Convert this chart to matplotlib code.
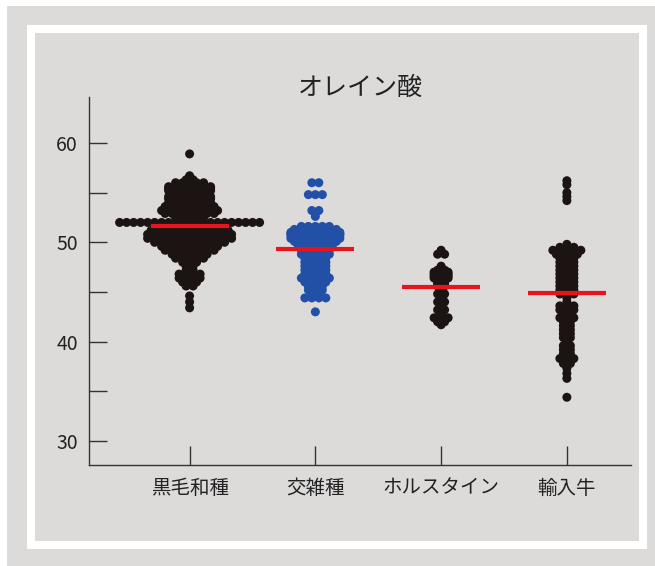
import numpy as np
import matplotlib
matplotlib.use("Agg")
import matplotlib.pyplot as plt
from matplotlib.patches import Rectangle

plt.rcParams['font.family'] = ['Noto Sans CJK JP', 'DejaVu Sans']

# oleic acid content (%) by breed: row value -> number of animals in that row
breeds = ["黒毛和種", "交雑種", "ホルスタイン", "輸入牛"]

wagyu_vals = [58.9, 56.7, 56.3, 56.0, 55.6, 55.4, 55.2, 54.8, 54.6, 54.4,
              54.0, 53.6, 53.2, 52.9, 52.5, 52.0, 51.6, 51.2, 50.8, 50.4,
              50.0, 49.6, 49.2, 48.8, 48.4, 48.0, 47.6, 47.2, 46.8, 46.4,
              46.0, 45.6, 44.6, 44.0, 43.4]
wagyu_counts = [1, 1, 2, 5, 7, 7, 7, 6, 7, 7,
                7, 8, 9, 8, 5, 21, 11, 12, 13, 13,
                11, 9, 8, 6, 5, 3, 2, 2, 4, 4,
                3, 2, 1, 1, 1]

cross_vals = [56.0, 54.8, 53.2, 52.6, 51.6, 51.3, 51.0, 50.85, 50.7, 50.4,
              50.1, 49.8, 49.5, 49.2, 48.8, 48.4, 48.0, 47.6, 47.2, 46.8,
              46.4, 46.0, 45.6, 45.2, 44.8, 44.4, 43.0]
cross_counts = [2, 3, 2, 1, 5, 7, 8, 8, 8, 8,
                7, 6, 5, 5, 5, 4, 4, 4, 4, 4,
                5, 4, 3, 3, 2, 4, 1]

holstein_vals = [49.2, 48.8, 47.6, 47.2, 47.0, 46.8, 46.6, 46.4, 46.2, 46.0,
                 45.8, 45.6, 45.2, 44.8, 44.4, 44.0, 43.6, 43.2, 42.8, 42.4,
                 42.0, 41.7]
holstein_counts = [1, 2, 1, 2, 3, 3, 3, 3, 2, 2,
                   2, 2, 1, 2, 1, 2, 1, 2, 1, 3,
                   2, 1]

import_vals = [56.2, 55.8, 55.0, 54.6, 54.2, 49.8, 49.5, 49.2, 48.8, 48.6,
               48.4, 48.0, 47.6, 47.2, 46.8, 46.4, 46.0, 45.6, 45.2, 44.8,
               44.4, 44.0, 43.6, 43.2, 42.8, 42.4, 42.0, 41.6, 41.2, 40.8,
               40.4, 40.0, 39.6, 39.2, 38.8, 38.3, 37.8, 37.3, 36.8, 36.3,
               34.4]
import_counts = [1, 1, 1, 1, 1, 1, 3, 5, 4, 2,
                 3, 3, 3, 3, 3, 3, 3, 3, 3, 3,
                 1, 1, 3, 3, 2, 3, 2, 2, 2, 2,
                 2, 1, 2, 2, 2, 3, 2, 1, 1, 1,
                 1]

groups = [
    (wagyu_vals, wagyu_counts, "#1c1412"),
    (cross_vals, cross_counts, "#2150a6"),
    (holstein_vals, holstein_counts, "#1c1412"),
    (import_vals, import_counts, "#1c1412"),
]

W, H = 655, 566
fig = plt.figure(figsize=(W / 100, H / 100), dpi=100)
fig.patch.set_facecolor("white")

grey = "#dddbda"
fig.add_artist(Rectangle((7 / W, 0), 1, 1 - 6 / H, transform=fig.transFigure,
                         facecolor=grey, edgecolor="none", zorder=-10))
fig.add_artist(Rectangle((27 / W, 1 - 549 / H), 620 / W, 524 / H, transform=fig.transFigure,
                         facecolor="white", edgecolor="none", zorder=-9))
fig.add_artist(Rectangle((35 / W, 1 - 541 / H), 604 / W, 508 / H, transform=fig.transFigure,
                         facecolor=grey, edgecolor="none", zorder=-8))

ax = fig.add_axes([89 / W, 1 - 465 / H, 542 / W, 368 / H])
ax.set_facecolor("none")
ax.set_xlim(-0.80, 3.51)
ax.set_ylim(27.58, 64.63)

# horizontal spacing of dots inside a row, in data units of x
x_px = ax.transData.transform([(0, 0), (1, 0)])
step = 7.0 / (x_px[1, 0] - x_px[0, 0])

for k, (vals, counts, color) in enumerate(groups):
    xs, ys = [], []
    for v, n in zip(vals, counts):
        xs.extend(k + (np.arange(n) - (n - 1) / 2) * step)
        ys.extend([v] * n)
    ax.scatter(xs, ys, s=42, color=color, edgecolors="none", zorder=3)
    m = np.mean(ys)
    ax.plot([k - 0.31, k + 0.31], [m, m], color="#e8141c", lw=3, zorder=4,
            solid_capstyle="butt")

for side in ["top", "right"]:
    ax.spines[side].set_visible(False)
for side in ["left", "bottom"]:
    ax.spines[side].set_color("#333333")
    ax.spines[side].set_linewidth(1.0)

ax.set_yticks([30, 40, 50, 60])
ax.set_yticks([35, 45, 55], minor=True)
ax.tick_params(axis="y", which="both", direction="in", length=13, width=1,
               color="#333333", labelsize=14, labelcolor="#222222", pad=8)
ax.set_xticks(range(len(breeds)))
ax.set_xticklabels(breeds)
ax.tick_params(axis="x", direction="in", length=14, width=1, color="#333333",
               labelsize=14, labelcolor="#222222", pad=9)

fig.text(360 / W, 1 - 88 / H, "オレイン酸", ha="center", va="center",
         fontsize=18, color="#222222")

fig.savefig("out.png", dpi=100)
